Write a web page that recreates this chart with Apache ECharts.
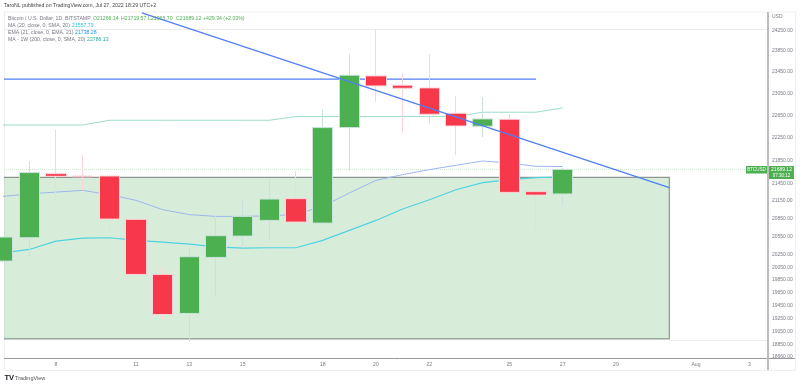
<!DOCTYPE html>
<html>
<head>
<meta charset="utf-8">
<style>html,body{margin:0;padding:0;background:#fff}#c{width:800px;height:386px}</style>
<script src="https://cdn.jsdelivr.net/npm/echarts@6/dist/echarts.min.js"></script>
</head>
<body>
<div id="c"></div>
<script>
// July 2022 day numbers; 32 = Aug 1, 34 = Aug 3
const days = [6,7,8,9,10,11,12,13,14,15,16,17,18,19,20,21,22,23,24,25,26,27];
const opens  = [20151,20533,21615,21574,21574,20837,19937,19323,20211,20559,20820,21186,20775,22428,23377,23203,23153,22687,22452,22578,21305,21266.14];
const closes = [20543,21633,21569,21560,20842,19937,19307,20222,20566,20887,21179,20792,22428,23390,23190,23147,22669,22457,22584,21293,21247,21689.12];
const lows   = [20130,20227,21157,21327,20626,19868,19230,18898,19604,20369,20480,20748,20762,21660,22894,22331,22500,21935,22260,21241,20698,21065.70];
const highs  = [20543,21835,22392,21953,21574,20842,20033,20369,20900,21174,21534,21660,22754,23787,24264,23422,23787,22999,22986,22669,21305,21719.57];

const ma20   = [20284,20341,20477,20526,20533,20489,20461,20428,20382,20362,20369,20369,20489,20654,20820,21010,21169,21339,21460,21511,21546,21557.79];
const ema21  = [21224,21268,21298,21327,21254,21157,21000,20916,20887,20887,20896,20921,21055,21282,21499,21598,21685,21760,21835,21800,21743,21738.28];
const ma1w   = [22475,22475,22475,22475,22560,22560,22560,22560,22560,22560,22560,22627,22627,22627,22627,22627,22627,22627,22706,22706,22706,22786.13];

const trendDays = [11.22,31.0];
const trendVals = [24589,21374];
const levelDays = [6.05,26.0];
const levelVals = [23315,23315];
const zoneDays = [5.0,31.0];
const zoneVals = [18932,21551];

const lastPrice = 21689.12;
const priceTicks = [24250,23850,23450,23050,22650,22250,21850,21450,21150,20850,20550,20250,20050,19850,19650,19450,19250,19050,18850,18660];
const dayTicks = [8,11,13,15,18,20,22,25,27,29,32,34];
const dayTickLabels = {8:'8',11:'11',13:'13',15:'15',18:'18',20:'20',22:'22',25:'25',27:'27',29:'29',32:'Aug',34:'3'};

const GREY='#787b86', GREEN='#4caf50', RED='#f7374a';
const FONT='"Liberation Sans", Arial, sans-serif';
const zip=(a,b)=>a.map((v,i)=>[v,b[i]]);
const txt=(x,y,s,fill,size,extra)=>({type:'text',silent:true,z:50,x:x,y:y,style:Object.assign({text:s,fill:fill||GREY,font:(size||5.2)+'px '+FONT,textVerticalAlign:'middle'},extra||{})});
const hline=(x1,x2,y,c,w,z)=>({type:'line',silent:true,z:z===undefined?-1:z,shape:{x1:x1,y1:y,x2:x2,y2:y},style:{stroke:c,lineWidth:w||1}});
const vline=(x,y1,y2,c,w,z)=>({type:'line',silent:true,z:z===undefined?-1:z,shape:{x1:x,y1:y1,x2:x,y2:y2},style:{stroke:c,lineWidth:w||1}});

const chart=echarts.init(document.getElementById('c'),null,{renderer:'canvas'});
chart.setOption({
  animation:false,
  backgroundColor:'#fff',
  textStyle:{fontFamily:FONT},
  grid:{left:4,right:32,top:12,bottom:28,containLabel:false},
  xAxis:{type:'value',min:6.05,max:34.7,
    splitLine:{show:false},axisTick:{show:false},
    axisLine:{show:false},
    axisLabel:{customValues:dayTicks,fontSize:5.2,color:GREY,margin:4,hideOverlap:false,showMinLabel:true,showMaxLabel:true,
      formatter:v=>dayTickLabels[v]||''}},
  yAxis:{type:'log',logBase:10,position:'right',min:18645,max:24606,scale:true,
    splitLine:{show:false},axisTick:{show:false},axisLine:{show:false},minorTick:{show:false},
    axisLabel:{customValues:priceTicks,fontSize:5,color:GREY,margin:4,align:'left',hideOverlap:false,showMinLabel:true,showMaxLabel:true,
      formatter:v=>Number(v).toFixed(2)}},
  series:[
    {type:'custom',name:'zone',z:1,clip:true,silent:true,
      encode:{x:[0,1],y:[2,3]},
      data:[[zoneDays[0],zoneDays[1],zoneVals[0],zoneVals[1]]],
      renderItem:(params,api)=>{
        const a=api.coord([api.value(0),api.value(3)]);
        const b=api.coord([api.value(1),api.value(2)]);
        return {type:'rect',shape:{x:a[0],y:a[1],width:b[0]-a[0],height:b[1]-a[1]},
          style:{fill:'rgba(76,175,80,0.22)',stroke:'rgba(110,120,115,0.75)',lineWidth:1.2}};
      }},
    {type:'line',name:'MA1W',data:zip(days,ma1w),symbol:'none',z:2,clip:true,lineStyle:{color:'#9ddccb',width:1}},
    {type:'line',name:'EMA',data:zip(days,ema21),symbol:'none',z:2,clip:true,lineStyle:{color:'#9db6ec',width:1}},
    {type:'line',name:'MA',data:zip(days,ma20),symbol:'none',z:2,clip:true,lineStyle:{color:'#4fd2e2',width:1.1}},
    {type:'line',name:'level',data:zip(levelDays,levelVals),symbol:'none',z:3,clip:true,lineStyle:{color:'#4f7ff5',width:1.2}},
    {type:'candlestick',name:'BTCUSD',z:4,clip:true,barWidth:21,
      data:days.map((d,i)=>[d,opens[i],closes[i],lows[i],highs[i]]),
      encode:{x:0,y:[1,2,3,4]},
      itemStyle:{color:GREEN,color0:RED,borderColor:'#c9e3dc',borderColor0:'#fbd3d8',borderWidth:1},
      markLine:{silent:true,symbol:'none',label:{show:false},z:1,
        lineStyle:{color:'#cfe8d0',type:'dotted',width:1},
        data:[[{coord:[6.05,lastPrice]},{coord:[33.85,lastPrice]}]]}},
    {type:'line',name:'trend',data:zip(trendDays,trendVals),symbol:'none',z:5,clip:true,lineStyle:{color:'#4f7ff5',width:1.2}}
  ],
  graphic:{elements:[
    hline(4,795,12,'#efefef'),
    hline(4,768,29.5,'#ebebeb'),
    hline(669,768,340.5,'#eeeeee'),
    hline(4,795,370.5,'#efefef'),
    vline(4.5,12,370,'#efefef'),
    vline(795.5,12,370,'#efefef'),
    hline(4,795,358.5,'#9a9a9a',1,40),
    vline(768,12,370,'#bdbdbd',2,40),
    txt(4,6,'TaroNL published on TradingView.com, Jul 27, 2022 18:29 UTC+2','#444'),
    txt(8,18.5,'Bitcoin / U.S. Dollar, 1D, BITSTAMP',GREY),
    txt(93,18.5,'O21266.14','#4caf50'),
    txt(121,18.5,'H21719.57','#4caf50'),
    txt(148,18.5,'L21065.70','#4caf50'),
    txt(176,18.5,'C21689.12','#4caf50'),
    txt(203,18.5,'+429.34 (+2.03%)','#4caf50'),
    txt(8,26,'MA (20, close, 0, SMA, 20)',GREY),
    txt(72,26,'21557.79','#26c6da'),
    txt(8,33,'EMA (21, close, 0, EMA, 21)',GREY),
    txt(75,33,'21738.28','#2196f3'),
    txt(8,40,'MA - 1W (200, close, 0, SMA, 20)',GREY),
    txt(87,40,'22786.13','#26a69a'),
    txt(772,17,'USD',GREY,5),
    {type:'rect',silent:true,z:45,shape:{x:746,y:166,width:21,height:7.5},style:{fill:GREEN}},
    txt(756.5,170,'BTCUSD','#fff',4.5,{textAlign:'center'}),
    {type:'rect',silent:true,z:45,shape:{x:769,y:166,width:25,height:13},style:{fill:GREEN}},
    txt(781.5,169.5,'21689.12','#fff',5,{textAlign:'center'}),
    txt(781.5,175.5,'07:30:12','#fff',4.5,{textAlign:'center'}),
    txt(4.5,378,'TV','#131722',7.5,{font:'bold 7.5px '+FONT}),
    txt(15,378,'TradingView','#555',5.5)
  ]}
});
</script>
</body>
</html>
